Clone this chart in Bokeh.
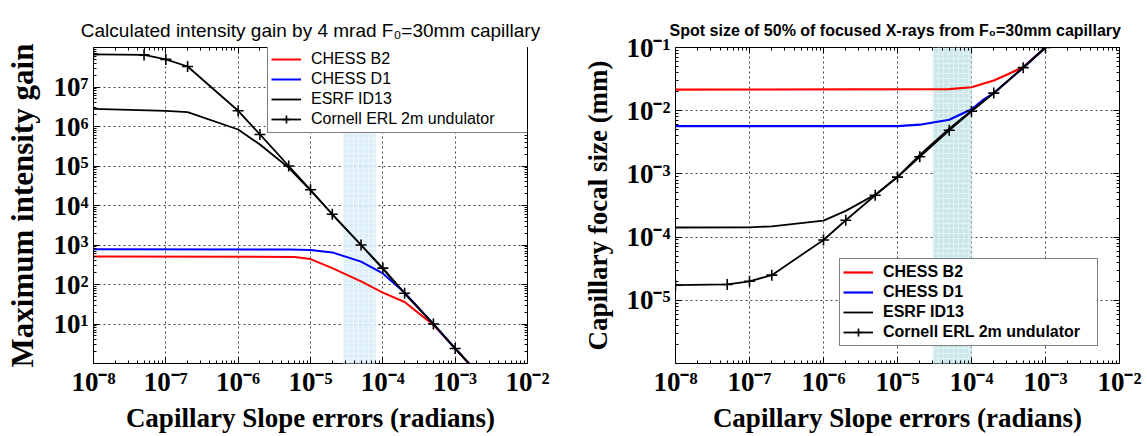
from bokeh.plotting import figure
from bokeh.layouts import row
from bokeh.models import FixedTicker, LogAxis
from bokeh.embed import file_html
from bokeh.resources import INLINE

# ---------------- data ----------------
x_ticks = [1e-8, 1e-7, 1e-6, 1e-5, 1e-4, 1e-3, 1e-2]
x_tick_labels = ["10⁻⁸", "10⁻⁷", "10⁻⁶", "10⁻⁵", "10⁻⁴", "10⁻³", "10⁻²"]

gain_ticks = [1, 1e1, 1e2, 1e3, 1e4, 1e5, 1e6, 1e7, 1e8]
gain_tick_labels = ["", "10¹", "10²", "10³", "10⁴", "10⁵", "10⁶", "10⁷", ""]

size_ticks = [1e-6, 1e-5, 1e-4, 1e-3, 1e-2, 1e-1]
size_tick_labels = ["", "10⁻⁵", "10⁻⁴", "10⁻³", "10⁻²", "10⁻¹"]

series_names = ["CHESS B2", "CHESS D1", "ESRF ID13", "Cornell ERL 2m undulator"]

# left panel: maximum intensity gain
gain_b2_x = [1e-8, 6e-6, 1e-5, 2e-5, 5e-5, 1e-4, 2e-4, 5e-4, 1e-3, 2e-3]
gain_b2_y = [510, 500, 440, 260, 120, 62, 36, 9.5, 2.4, 0.6]
gain_d1_x = [1e-8, 5e-6, 1e-5, 2e-5, 5e-5, 1e-4, 2e-4, 5e-4, 1e-3, 2e-3]
gain_d1_y = [780, 770, 750, 650, 380, 190, 62, 10, 2.4, 0.6]
gain_esrf_x = [1e-8, 1e-7, 2e-7, 1e-6, 2e-6, 5e-6, 1e-5, 2e-5, 5e-5, 1e-4, 2e-4, 5e-4, 1e-3, 2e-3]
gain_esrf_y = [2.8e6, 2.5e6, 2.3e6, 8.4e5, 3.5e5, 9.0e4, 2.4e4, 6.0e3, 1.0e3, 2.5e2, 60, 10, 2.4, 0.6]
gain_erl_x = [1e-8, 5e-8, 1e-7, 2e-7, 1e-6, 2e-6, 5e-6, 1e-5, 2e-5, 5e-5, 1e-4, 2e-4, 5e-4, 1e-3, 2e-3]
gain_erl_y = [6.7e7, 6.5e7, 5.0e7, 3.3e7, 2.5e6, 6.3e5, 1.0e5, 2.5e4, 6.0e3, 1.0e3, 2.6e2, 60, 10, 2.4, 0.6]
gain_band_x = [2.8e-5, 8e-5]
gain_band_y = [1, 1e8]

# right panel: capillary focal size (mm)
size_b2_x = [1e-8, 5e-5, 1e-4, 2e-4, 3e-4, 5e-4, 1e-3]
size_b2_y = [2.15e-2, 2.2e-2, 2.35e-2, 3.0e-2, 3.7e-2, 4.9e-2, 1e-1]
size_d1_x = [1e-8, 1e-5, 2e-5, 5e-5, 1e-4, 1.4e-4, 2e-4, 5e-4, 1e-3]
size_d1_y = [5.7e-3, 5.7e-3, 6.0e-3, 7.2e-3, 1.05e-2, 1.45e-2, 1.9e-2, 4.8e-2, 1e-1]
size_esrf_x = [1e-8, 1e-7, 2e-7, 1e-6, 2e-6, 5e-6, 1e-5, 2e-5, 5e-5, 1e-4, 2e-4, 5e-4, 1e-3]
size_esrf_y = [1.42e-4, 1.43e-4, 1.48e-4, 1.82e-4, 2.6e-4, 4.7e-4, 9.0e-4, 2.0e-3, 5.2e-3, 1.0e-2, 1.9e-2, 4.8e-2, 1e-1]
size_erl_x = [1e-8, 5e-8, 1e-7, 2e-7, 1e-6, 2e-6, 5e-6, 1e-5, 2e-5, 5e-5, 1e-4, 2e-4, 5e-4, 1e-3]
size_erl_y = [1.74e-5, 1.78e-5, 2.0e-5, 2.5e-5, 9.0e-5, 1.85e-4, 4.6e-4, 8.9e-4, 1.87e-3, 4.9e-3, 9.8e-3, 1.9e-2, 4.8e-2, 1e-1]
size_band_x = [3e-5, 1e-4]
size_band_y = [1e-6, 1e-1]

COLORS = ["#ff0000", "#0000ff", "#000000", "#000000"]


def minor(ticks):
    out = []
    for t in ticks[:-1]:
        out += [k * t for k in range(2, 10)]
    return out


def style_axis(ax, ticks, labels, label_size, show_labels=True, standoff=4):
    ax.ticker = FixedTicker(ticks=ticks, minor_ticks=minor(ticks))
    ax.major_label_overrides = dict(zip(ticks, labels))
    ax.major_tick_in = 6
    ax.major_tick_out = 0
    ax.minor_tick_in = 3
    ax.minor_tick_out = 0
    ax.major_tick_line_color = "black"
    ax.minor_tick_line_color = "black"
    ax.axis_line_color = None
    ax.major_label_text_font = "Liberation Serif"
    ax.major_label_text_font_style = "bold"
    ax.major_label_text_color = "black"
    ax.major_label_standoff = standoff
    ax.major_label_text_font_size = label_size if show_labels else "0px"


def make_panel(width, height, borders, y_range, y_ticks, y_labels, title, title_font,
               title_style, title_size, title_standoff, xlabel, ylabel, ylabel_size,
               ylabel_standoff):
    p = figure(width=width, height=height, x_axis_type="log", y_axis_type="log",
               x_range=(1e-8, 1e-2), y_range=y_range, output_backend="svg",
               toolbar_location=None, title=title)
    p.min_border_left, p.min_border_right, p.min_border_top, p.min_border_bottom = borders
    p.background_fill_color = "white"
    p.border_fill_color = "white"
    p.outline_line_color = "black"
    p.outline_line_width = 1
    p.title.align = "center"
    p.title.text_font = title_font
    p.title.text_font_style = title_style
    p.title.text_font_size = title_size
    p.title.text_color = "black"
    p.title.standoff = title_standoff

    xax = p.xaxis[0]
    yax = p.yaxis[0]
    style_axis(xax, x_ticks, x_tick_labels, "27px", standoff=3)
    style_axis(yax, y_ticks, y_labels, "27px", standoff=5)

    xax.axis_label = xlabel
    yax.axis_label = ylabel
    for ax, sz, so in ((xax, "27px", 3), (yax, ylabel_size, ylabel_standoff)):
        ax.axis_label_text_font = "Liberation Serif"
        ax.axis_label_text_font_style = "bold"
        ax.axis_label_text_font_size = sz
        ax.axis_label_text_color = "black"
        ax.axis_label_standoff = so

    top = LogAxis()
    style_axis(top, x_ticks, [""] * len(x_ticks), "0px", show_labels=False, standoff=0)
    right = LogAxis()
    style_axis(right, y_ticks, [""] * len(y_ticks), "0px", show_labels=False, standoff=0)
    p.add_layout(top, "above")
    p.add_layout(right, "right")

    p.grid.grid_line_color = "#444444"
    p.grid.grid_line_dash = "2 3"
    p.grid.grid_line_width = 1
    return p


# ---------------- left panel ----------------
p1 = make_panel(580, 436, (93, 53, 42, 71), (1, 1e8), gain_ticks, gain_tick_labels,
                "Calculated intensity gain by 4 mrad F₀=30mm capillary",
                "Liberation Sans", "normal", "19px", 13,
                "Capillary Slope errors (radians)", "Maximum intensity gain", "31px", 10)

p1.quad(left=[gain_band_x[0]], right=[gain_band_x[1]], bottom=[gain_band_y[0]],
        top=[gain_band_y[1]], fill_color="#d6ecf7", fill_alpha=0.85, line_color=None,
        hatch_pattern="+", hatch_color="#eef8fc", hatch_scale=5, hatch_weight=1)

p1.line(gain_b2_x, gain_b2_y, color=COLORS[0], line_width=2, legend_label=series_names[0])
p1.line(gain_d1_x, gain_d1_y, color=COLORS[1], line_width=2, legend_label=series_names[1])
p1.line(gain_esrf_x, gain_esrf_y, color=COLORS[2], line_width=1.8, legend_label=series_names[2])
p1.line(gain_erl_x, gain_erl_y, color=COLORS[3], line_width=1.8, legend_label=series_names[3])
p1.scatter(gain_erl_x, gain_erl_y, marker="cross", size=11, line_color=COLORS[3],
           line_width=1.6, legend_label=series_names[3])

# ---------------- right panel ----------------
p2 = make_panel(567, 436, (95, 28, 47, 73), (1e-6, 1e-1), size_ticks, size_tick_labels,
                "Spot size of 50%  of focused X-rays from F₀=30mm capillary",
                "Liberation Sans", "bold", "16px", 17,
                "Capillary Slope errors (radians)", "Capillary focal size (mm)", "27px", 10)

p2.quad(left=[size_band_x[0]], right=[size_band_x[1]], bottom=[size_band_y[0]],
        top=[size_band_y[1]], fill_color="#c3e3e6", fill_alpha=0.85, line_color=None,
        hatch_pattern="+", hatch_color="#e2f2f3", hatch_scale=5, hatch_weight=1)

p2.line(size_b2_x, size_b2_y, color=COLORS[0], line_width=2.2, legend_label=series_names[0])
p2.line(size_d1_x, size_d1_y, color=COLORS[1], line_width=2.2, legend_label=series_names[1])
p2.line(size_esrf_x, size_esrf_y, color=COLORS[2], line_width=1.8, legend_label=series_names[2])
p2.line(size_erl_x, size_erl_y, color=COLORS[3], line_width=1.8, legend_label=series_names[3])
p2.scatter(size_erl_x, size_erl_y, marker="cross", size=11, line_color=COLORS[3],
           line_width=1.6, legend_label=series_names[3])

# ---------------- legends ----------------
for p, loc, style, lw in ((p1, (174, 230), "normal", 235), (p2, (164, 17), "bold", 211)):
    lg = p.legend[0]
    lg.location = loc
    lg.label_text_font = "Liberation Sans"
    lg.label_text_font_style = style
    lg.label_text_font_size = "16px"
    lg.label_text_color = "black"
    lg.glyph_width = 30
    lg.glyph_height = 20
    lg.label_height = 20
    lg.label_width = lw
    lg.label_standoff = 10
    lg.spacing = 0
    lg.padding = 3
    lg.margin = 0
    lg.border_line_color = "black"
    lg.border_line_width = 1
    lg.background_fill_color = "white"
    lg.background_fill_alpha = 1.0

layout = row(p1, p2)
open("out.html", "w").write(file_html(layout, INLINE))
